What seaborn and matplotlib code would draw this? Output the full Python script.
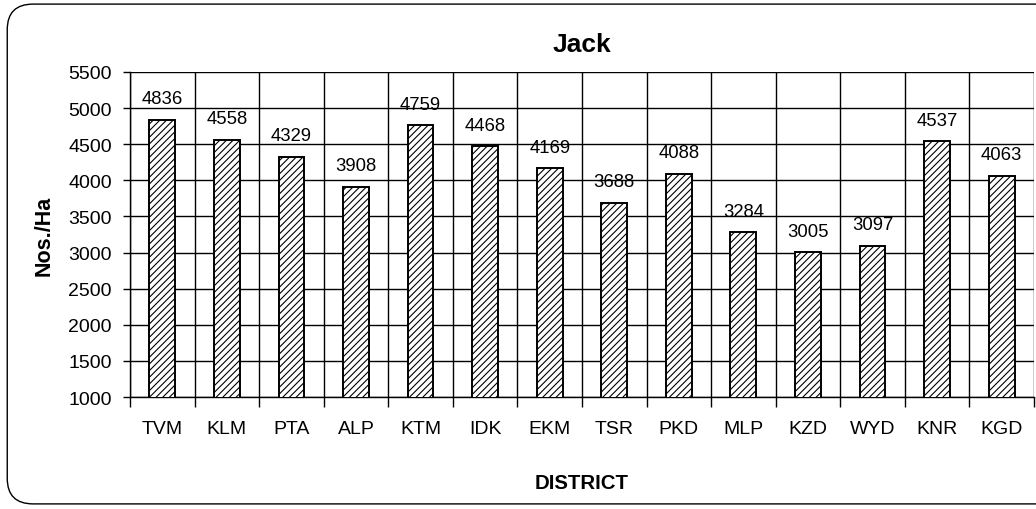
import numpy as np
import pandas as pd
import seaborn as sns
import matplotlib.pyplot as plt
from matplotlib.patches import FancyBboxPatch
from matplotlib.ticker import FixedLocator

districts = ['TVM', 'KLM', 'PTA', 'ALP', 'KTM', 'IDK', 'EKM', 'TSR', 'PKD', 'MLP', 'KZD', 'WYD', 'KNR', 'KGD']
jack = [4836, 4558, 4329, 3908, 4759, 4468, 4169, 3688, 4088, 3284, 3005, 3097, 4537, 4063]
yticks = list(range(1000, 5501, 500))

sns.set_style("white")
plt.rcParams['font.family'] = ['Liberation Sans', 'DejaVu Sans']
plt.rcParams['hatch.linewidth'] = 0.8
for k in ['text.color', 'axes.labelcolor', 'xtick.color', 'ytick.color']:
    plt.rcParams[k] = 'black'

df = pd.DataFrame({'district': districts, 'nos': jack})

fig = plt.figure(figsize=(10.36, 5.10), dpi=100)
ax = fig.add_axes([0.1255, 0.2196, 0.8725, 0.6374])

sns.barplot(data=df, x='district', y='nos', color='white', edgecolor='black',
            linewidth=1.4, width=0.4, hatch='/////', ax=ax, zorder=3)

ax.set_ylim(1000, 5500)
ax.set_xlim(-0.5, len(districts) - 0.5)
ax.set_yticks(yticks)
ax.set_yticklabels([str(t) for t in yticks], fontsize=14)
ax.tick_params(axis='y', length=5, width=1, pad=8, left=True, color='black')
ax.tick_params(axis='x', which='major', length=0, pad=16.5, labelsize=14)
ax.xaxis.set_minor_locator(FixedLocator(np.arange(-0.5, len(districts), 1)))
ax.tick_params(axis='x', which='minor', length=7, width=1, bottom=True, color='black')
ax.grid(axis='y', which='major', color='black', linewidth=1)
ax.grid(axis='x', which='minor', color='black', linewidth=1)
ax.grid(axis='x', which='major', visible=False)
ax.set_axisbelow(True)

for s in ['top', 'right']:
    ax.spines[s].set_visible(False)
for s in ['left', 'bottom']:
    ax.spines[s].set_color('black')
    ax.spines[s].set_linewidth(1)

# value labels above bars
for i, v in enumerate(jack):
    ax.annotate(str(v), (i, v), xytext=(0, 9), textcoords='offset points',
                ha='center', va='bottom', fontsize=13.3)

ax.set_title('Jack', fontsize=19, fontweight='bold', pad=15)
ax.set_xlabel('DISTRICT', fontsize=14.7, fontweight='bold', labelpad=26)
ax.set_ylabel('Nos./Ha', fontsize=15.5, fontweight='bold', labelpad=10)

frame = FancyBboxPatch((0.007, 0.01), 1.05, 0.98, boxstyle='round,pad=0,rounding_size=0.025',
                       transform=fig.transFigure, facecolor='none', edgecolor='black',
                       linewidth=1, mutation_aspect=2.0, clip_on=False)
fig.patches.append(frame)

fig.savefig('out.png', dpi=100)
